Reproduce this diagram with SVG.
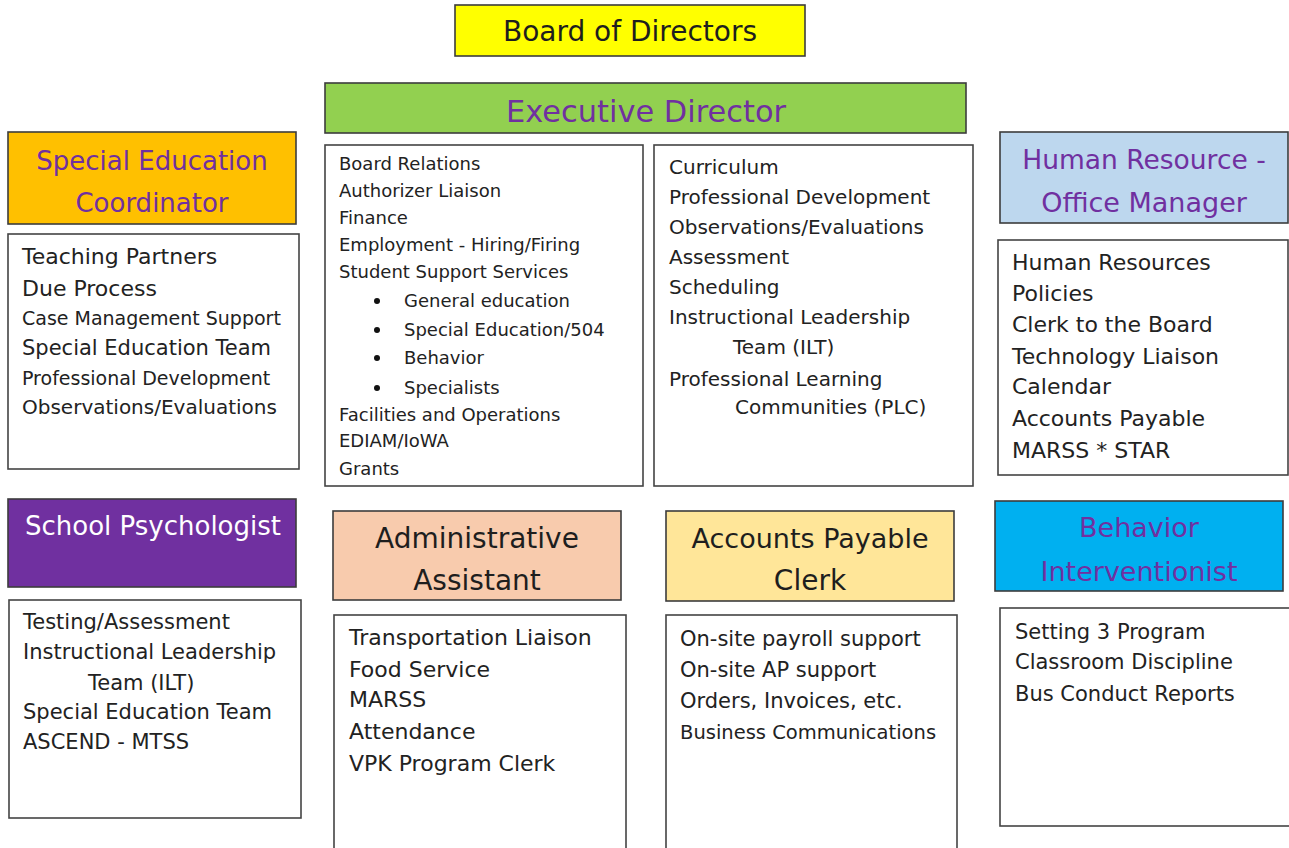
<svg xmlns="http://www.w3.org/2000/svg" width="1289" height="848" viewBox="0 0 1289 848">
<style>
.hdr{stroke:#3c3c3c;stroke-width:1.6}
.lst{fill:#fff;stroke:#444;stroke-width:1.6}
.ht{font-family:"DejaVu Sans",sans-serif;text-anchor:middle}
.p{fill:#7030A0}
.k{fill:#1e1e1e}
.w{fill:#fff}
.t{font-family:"DejaVu Sans",sans-serif;fill:#222}
</style>
<rect width="1289" height="848" fill="#fff"/>
<g id="board">
<rect class="hdr" x="455" y="5" width="350" height="51" fill="#FFFF00"/>
<text class="ht k" x="630" y="41" font-size="28">Board of Directors</text>
</g>
<g id="executive-director">
<rect class="hdr" x="325" y="83" width="641" height="50" fill="#92D050"/>
<text class="ht p" x="646" y="122" font-size="31" textLength="280" lengthAdjust="spacingAndGlyphs">Executive Director</text>
</g>
<g id="ed-duties-1">
<rect class="lst" x="325" y="145" width="318" height="341"/>
<g class="t" font-size="18">
<text x="339" y="170">Board Relations</text>
<text x="339" y="197">Authorizer Liaison</text>
<text x="339" y="224">Finance</text>
<text x="339" y="251">Employment - Hiring/Firing</text>
<text x="339" y="278">Student Support Services</text>
<text x="404" y="307">General education</text>
<text x="404" y="336">Special Education/504</text>
<text x="404" y="364">Behavior</text>
<text x="404" y="394">Specialists</text>
<text x="339" y="421">Facilities and Operations</text>
<text x="339" y="447">EDIAM/IoWA</text>
<text x="339" y="475">Grants</text>
</g>
<g fill="#111">
<circle cx="377" cy="301" r="3"/>
<circle cx="377" cy="330" r="3"/>
<circle cx="377" cy="358" r="3"/>
<circle cx="377" cy="388" r="3"/>
</g>
</g>
<g id="ed-duties-2">
<rect class="lst" x="654" y="145" width="319" height="341"/>
<g class="t" font-size="20">
<text x="669" y="174">Curriculum</text>
<text x="669" y="204">Professional Development</text>
<text x="669" y="234">Observations/Evaluations</text>
<text x="669" y="264">Assessment</text>
<text x="669" y="294">Scheduling</text>
<text x="669" y="324">Instructional Leadership</text>
<text x="733" y="354">Team (ILT)</text>
<text x="669" y="386">Professional Learning</text>
<text x="735" y="414">Communities (PLC)</text>
</g>
</g>
<g id="sped-coordinator">
<rect class="hdr" x="8" y="132" width="288" height="92" fill="#FFC000"/>
<text class="ht p" x="152" y="170" font-size="26">Special Education</text>
<text class="ht p" x="152" y="212" font-size="26">Coordinator</text>
</g>
<g id="sped-duties">
<rect class="lst" x="8" y="234" width="291" height="235"/>
<g class="t">
<text x="22" y="264" font-size="22">Teaching Partners</text>
<text x="22" y="296" font-size="22">Due Process</text>
<text x="22" y="325" font-size="19">Case Management Support</text>
<text x="22" y="355" font-size="21">Special Education Team</text>
<text x="22" y="385" font-size="19">Professional Development</text>
<text x="22" y="414" font-size="20">Observations/Evaluations</text>
</g>
</g>
<g id="hr-office-manager">
<rect class="hdr" x="1000" y="132" width="288" height="91" fill="#BDD7EE"/>
<text class="ht p" x="1144" y="169" font-size="26.5">Human Resource -</text>
<text class="ht p" x="1144" y="212" font-size="27">Office Manager</text>
</g>
<g id="hr-duties">
<rect class="lst" x="998" y="240" width="290" height="235"/>
<g class="t" font-size="22">
<text x="1012" y="270">Human Resources</text>
<text x="1012" y="301">Policies</text>
<text x="1012" y="332">Clerk to the Board</text>
<text x="1012" y="364">Technology Liaison</text>
<text x="1012" y="394">Calendar</text>
<text x="1012" y="426">Accounts Payable</text>
<text x="1012" y="458">MARSS * STAR</text>
</g>
</g>
<g id="school-psychologist">
<rect class="hdr" x="8" y="499" width="288" height="88" fill="#7030A0"/>
<text class="ht w" x="153" y="535" font-size="26">School Psychologist</text>
</g>
<g id="psych-duties">
<rect class="lst" x="9" y="600" width="292" height="218"/>
<g class="t" font-size="21">
<text x="23" y="629">Testing/Assessment</text>
<text x="23" y="659">Instructional Leadership</text>
<text x="88" y="690">Team (ILT)</text>
<text x="23" y="719">Special Education Team</text>
<text x="23" y="749">ASCEND - MTSS</text>
</g>
</g>
<g id="admin-assistant">
<rect class="hdr" x="333" y="511" width="288" height="89" fill="#F8CBAD"/>
<text class="ht k" x="477" y="548" font-size="28">Administrative</text>
<text class="ht k" x="477" y="590" font-size="28">Assistant</text>
</g>
<g id="admin-duties">
<rect class="lst" x="334" y="615" width="292" height="250"/>
<g class="t" font-size="22">
<text x="349" y="645">Transportation Liaison</text>
<text x="349" y="677">Food Service</text>
<text x="349" y="707">MARSS</text>
<text x="349" y="739">Attendance</text>
<text x="349" y="771">VPK Program Clerk</text>
</g>
</g>
<g id="ap-clerk">
<rect class="hdr" x="666" y="511" width="288" height="90" fill="#FFE699"/>
<text class="ht k" x="810" y="548" font-size="27">Accounts Payable</text>
<text class="ht k" x="810" y="590" font-size="28">Clerk</text>
</g>
<g id="ap-duties">
<rect class="lst" x="666" y="615" width="291" height="250"/>
<g class="t" font-size="21">
<text x="680" y="646">On-site payroll support</text>
<text x="680" y="677">On-site AP support</text>
<text x="680" y="708">Orders, Invoices, etc.</text>
<text x="680" y="739" font-size="19.5">Business Communications</text>
</g>
</g>
<g id="behavior-interventionist">
<rect class="hdr" x="995" y="501" width="288" height="90" fill="#00B0F0"/>
<text class="ht p" x="1139" y="537" font-size="27">Behavior</text>
<text class="ht p" x="1139" y="581" font-size="27">Interventionist</text>
</g>
<g id="behavior-duties">
<rect class="lst" x="1000" y="608" width="310" height="218"/>
<g class="t" font-size="21">
<text x="1015" y="639">Setting 3 Program</text>
<text x="1015" y="669">Classroom Discipline</text>
<text x="1015" y="701">Bus Conduct Reports</text>
</g>
</g>
<g id="connectors"></g>
</svg>
